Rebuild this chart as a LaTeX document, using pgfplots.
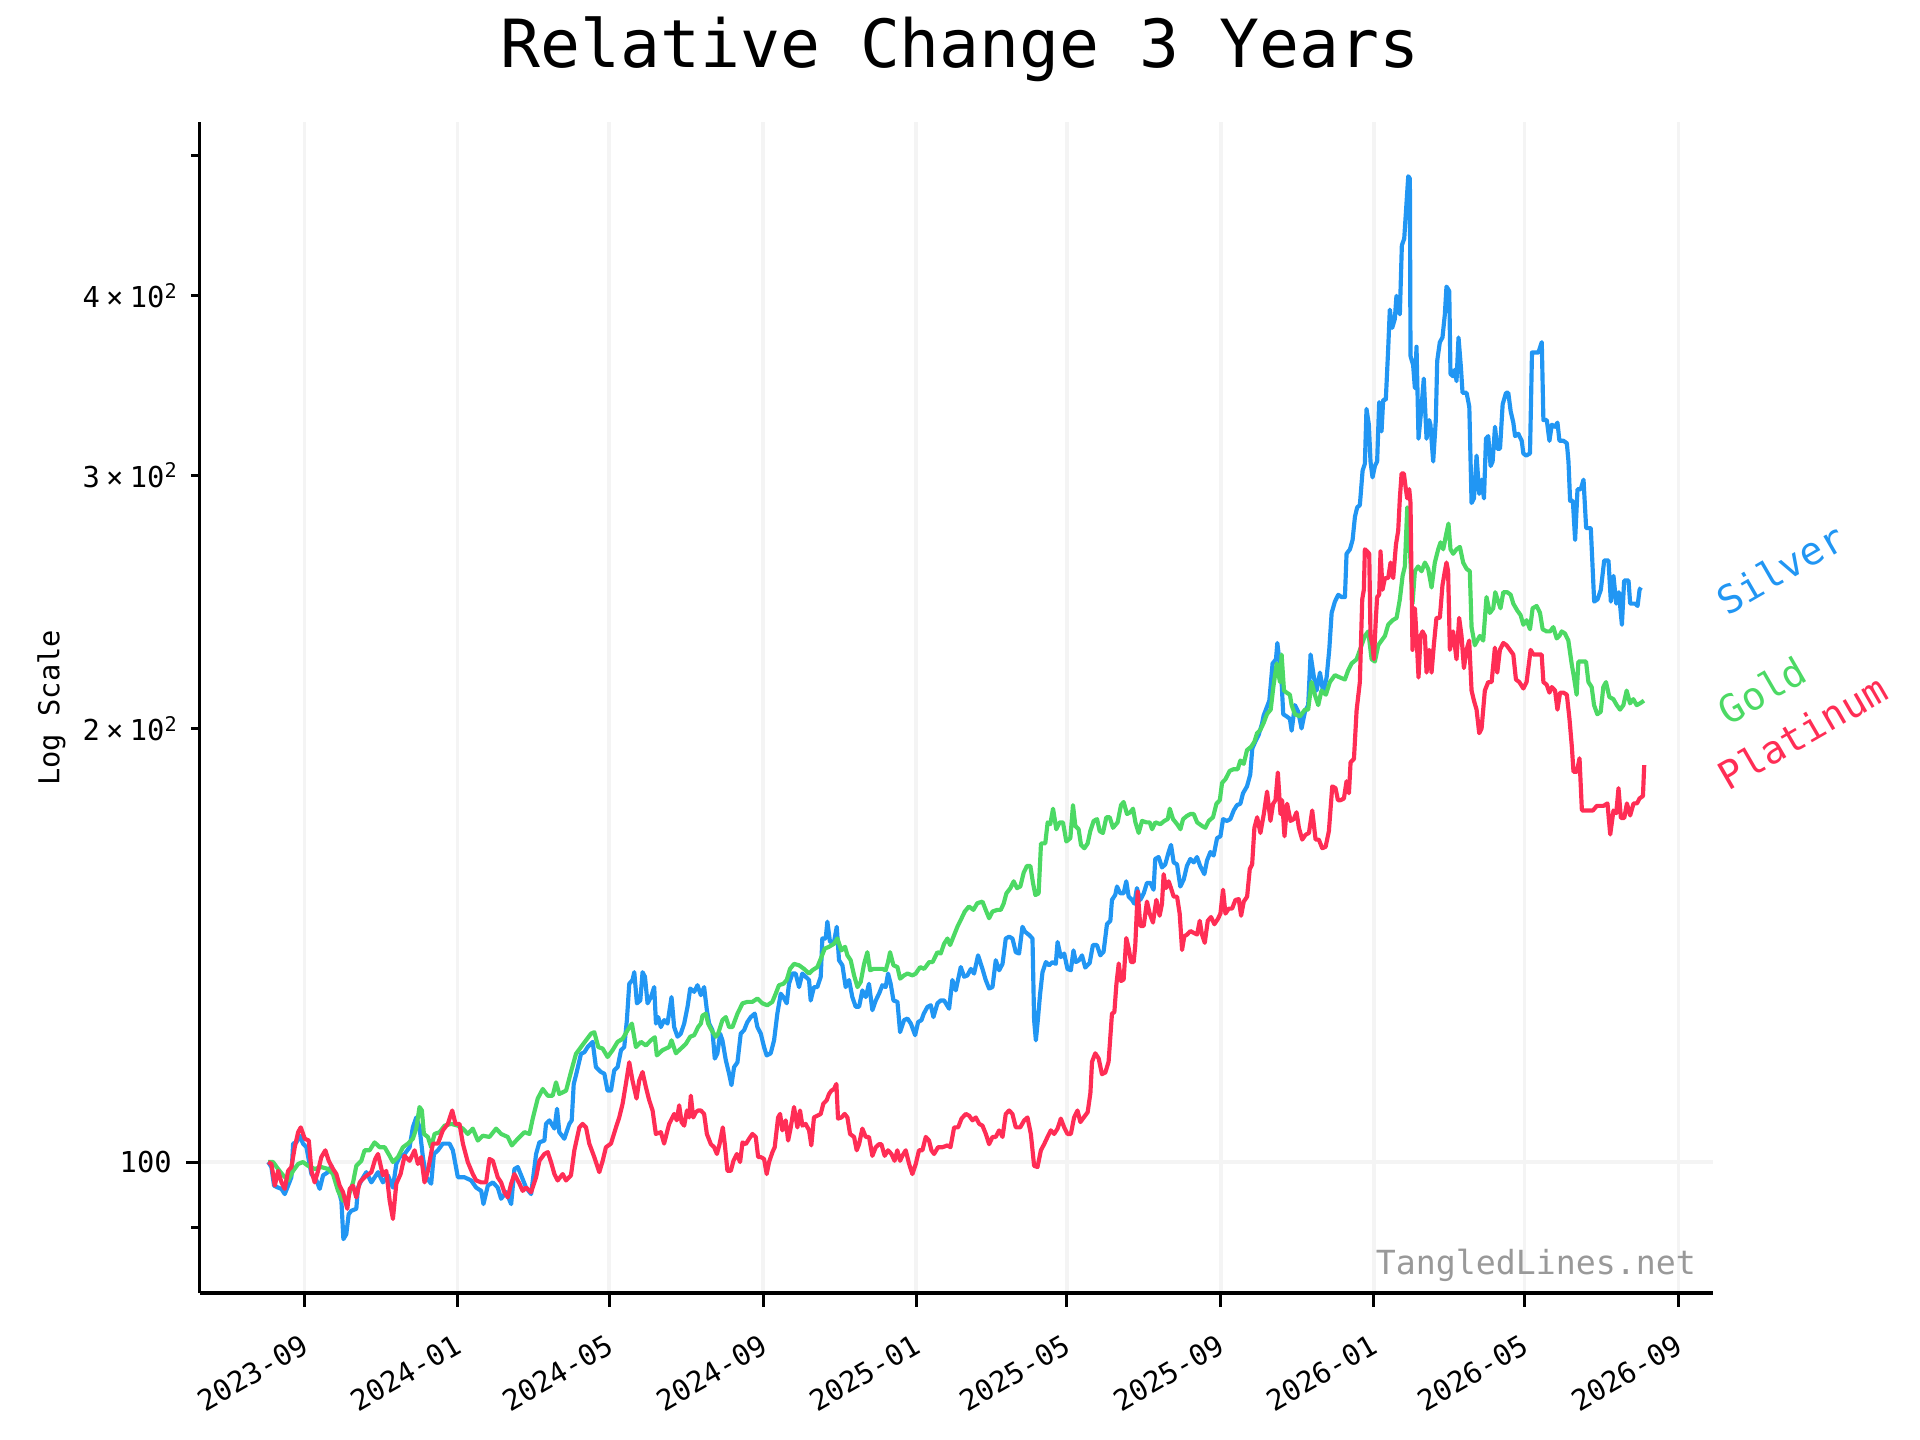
\documentclass[border=0pt]{standalone}
\usepackage{fontspec}
\setmainfont{DejaVu Sans Mono}
\usepackage{pgfplots}
\pgfplotsset{compat=1.18}
\definecolor{cSilver}{HTML}{2196F3}
\definecolor{cGold}{HTML}{4CD964}
\definecolor{cPlat}{HTML}{FF2D55}
\definecolor{cGrid}{HTML}{F4F4F4}
\definecolor{cWm}{HTML}{999999}
\newcommand{\sci}[1]{#1\hspace{0.22em}×\hspace{0.22em}10\raisebox{0.32em}{\fontsize{7.3}{8}\selectfont 2}}
\begin{document}
\begin{tikzpicture}
\useasboundingbox (-71.9bp,-52.9bp) rectangle (619.3bp,465.5bp);
\begin{axis}[
  at={(0,0)}, anchor=south west,
  scale only axis, width=544.7bp, height=421.4bp,
  xmin=-83.5, xmax=1123.3,
  ymode=log, ymin=81.1, ymax=527.5,
  axis lines=left, axis line style={-, line width=1.2bp, black},
  tick align=outside,
  major tick length=4.9bp, minor tick length=3.1bp,
  every tick/.style={black, line width=1.1bp},
  xtick={0,122,243,366,488,608,731,853,973,1096},
  xticklabels={2023-09,2024-01,2024-05,2024-09,2025-01,2025-05,2025-09,2026-01,2026-05,2026-09},
  ytick={100}, yticklabels={100},
  minor ytick={90,500},
  extra y ticks={200,300,400},
  extra y tick labels={\sci{2},\sci{3},\sci{4}},
  extra y tick style={major tick length=3.1bp, grid=none},
  xmajorgrids, ymajorgrids,
  major grid style={cGrid, line width=1.3bp},
  tick label style={font=\fontsize{10.4}{12}\selectfont},
  xticklabel style={rotate=30, anchor=north east, inner sep=0pt, xshift=-6bp, yshift=-7.2bp},
  yticklabel style={anchor=east, inner sep=0pt, xshift=-5bp},
  ylabel={Log Scale},
  every axis y label/.style={at={(axis description cs:-0.098,0.5)}, anchor=center, rotate=90, font=\fontsize{10.4}{12}\selectfont},
  clip=false,
]
\addplot[cSilver, line width=1.5bp, line join=round] table {
-28.9 100.0
-26.3 99.2
-24.2 96.3
-21.0 96.0
-18.3 95.8
-15.7 95.0
-13.0 96.3
-10.4 97.6
-9.0 103.0
-6.4 103.2
-3.7 104.3
-1.1 103.0
1.6 102.4
5.6 98.1
9.6 97.1
12.2 95.8
14.9 97.9
18.8 98.4
21.5 99.4
24.2 98.1
27.3 95.5
29.5 94.0
31.1 88.4
33.4 89.1
35.3 92.0
37.4 92.5
41.4 92.8
42.7 96.0
45.4 97.1
49.4 98.4
53.4 96.8
58.7 98.4
62.6 96.8
66.6 97.9
70.6 96.0
73.3 99.7
75.9 100.8
79.9 101.3
83.9 102.4
86.5 105.7
89.2 107.4
91.8 105.7
94.5 100.8
97.2 97.6
101.1 96.6
103.3 101.3
106.5 101.9
110.4 103.0
115.7 103.0
118.4 101.9
122.4 97.6
127.7 97.6
133.0 97.1
137.0 96.0
141.0 95.5
142.8 93.5
146.3 96.3
150.3 96.8
154.2 96.0
156.9 94.3
160.9 95.3
164.9 93.5
167.5 98.9
170.2 99.2
174.1 97.3
176.8 96.0
180.8 95.0
184.8 101.3
187.4 103.2
191.4 103.5
192.7 106.3
195.4 106.9
199.4 105.5
201.5 108.9
203.3 104.9
207.3 103.8
211.3 106.3
213.2 106.9
214.8 113.3
216.6 114.9
220.6 118.9
223.3 119.2
225.9 120.2
229.9 121.2
232.5 116.4
236.5 115.5
239.2 115.2
241.8 112.1
244.5 112.1
247.1 115.8
249.8 116.4
252.5 119.6
255.1 120.2
257.2 125.5
259.1 133.0
261.7 133.8
263.1 135.5
265.2 128.9
267.9 129.5
269.7 135.5
271.6 134.5
273.7 128.9
276.4 130.2
279.0 132.3
280.4 124.8
282.2 126.1
284.3 124.1
287.0 125.5
289.6 124.8
292.8 130.2
294.9 124.1
297.6 122.2
300.2 122.8
302.9 124.8
305.6 128.2
307.7 132.0
310.9 131.3
313.5 132.7
316.2 130.6
318.8 132.3
321.0 127.5
322.8 124.8
325.4 123.5
327.3 118.0
329.4 119.0
331.6 122.8
333.4 121.5
336.1 117.7
338.7 115.2
340.6 113.1
342.7 116.4
345.4 117.3
348.0 122.8
350.7 123.5
353.3 125.1
356.0 126.1
359.2 126.8
361.3 124.1
364.0 122.8
366.6 120.2
368.7 118.6
371.9 119.0
374.6 121.5
377.2 126.8
379.9 130.9
382.0 130.2
384.7 128.9
386.5 133.0
389.2 135.2
391.8 135.2
394.5 132.3
397.1 135.2
399.8 134.5
402.5 133.8
403.8 129.5
406.4 132.3
409.1 132.3
411.8 134.5
413.1 143.0
415.8 143.0
417.1 146.9
419.2 142.2
422.4 142.2
424.6 145.7
426.4 138.1
429.1 137.0
431.7 132.3
434.4 133.8
437.0 130.2
439.7 128.2
442.4 128.2
445.0 131.6
447.7 130.2
450.3 133.0
453.0 127.5
455.7 129.5
458.3 130.9
461.0 132.7
463.6 132.3
465.5 135.2
467.6 133.0
469.8 129.5
473.0 129.2
475.1 123.1
478.3 125.5
481.0 125.8
483.7 124.8
487.1 122.5
489.5 125.1
492.2 125.5
494.0 126.8
497.0 128.2
499.6 128.5
501.7 126.1
504.9 128.9
507.5 129.5
510.2 129.5
514.2 127.8
516.8 133.8
519.5 131.6
523.5 136.6
526.2 134.5
528.8 134.8
531.5 136.2
534.1 135.2
537.3 139.2
540.8 136.2
543.4 133.8
546.1 132.0
548.8 132.3
551.4 138.1
554.1 135.9
556.8 137.3
559.4 143.0
562.1 143.4
564.7 143.0
567.4 139.9
570.0 139.6
572.7 145.7
574.6 144.6
578.0 143.8
580.7 143.0
582.0 125.5
583.4 121.5
584.7 124.8
586.8 130.9
588.7 135.5
591.4 137.7
594.0 137.0
596.7 137.7
599.3 137.3
600.7 142.2
603.3 138.8
606.0 139.6
608.6 136.2
611.3 135.9
613.4 140.3
615.3 137.7
617.9 138.1
620.2 139.2
622.8 136.5
626.3 137.5
628.9 141.5
632.1 141.5
634.8 139.2
637.4 140.0
640.1 146.3
642.8 147.1
644.1 152.1
646.7 153.3
648.1 155.4
650.7 153.7
653.4 153.7
655.5 156.7
657.4 152.9
660.1 152.1
661.9 151.2
664.0 155.0
666.7 152.1
669.4 153.7
672.0 156.3
674.7 156.3
677.3 154.6
678.6 162.4
681.3 162.9
684.0 160.2
686.6 161.0
689.3 164.2
691.2 166.1
693.3 161.5
696.0 161.0
698.6 155.4
701.3 157.1
703.9 160.6
706.6 162.4
709.3 161.5
711.9 162.9
714.4 160.6
717.8 158.5
719.9 162.0
722.6 164.2
725.2 163.3
727.9 167.9
730.6 168.4
732.7 173.1
735.8 172.6
738.5 173.1
741.2 175.5
743.8 177.0
746.5 177.4
748.6 180.4
751.8 182.4
754.4 185.9
756.0 193.8
758.4 195.9
761.1 198.1
763.7 201.5
765.1 204.3
767.7 207.1
769.6 209.2
772.2 222.0
774.9 223.5
776.0 229.4
777.5 223.5
779.4 215.5
780.7 204.7
783.4 204.0
786.0 203.2
787.4 199.4
790.0 207.7
792.7 205.5
795.3 200.1
798.0 205.5
800.6 207.7
802.5 225.2
805.2 217.1
807.3 212.6
810.0 218.8
812.6 211.9
815.3 217.1
817.4 226.9
819.3 240.7
821.9 245.1
824.6 247.8
827.2 246.9
829.9 246.9
831.2 264.6
833.9 266.5
836.0 270.5
837.9 280.8
839.7 285.0
841.8 286.0
844.0 302.3
845.8 305.6
847.1 333.6
849.0 325.3
850.3 306.7
851.9 299.0
853.8 304.5
855.6 306.7
857.2 337.3
859.1 321.8
860.4 338.5
862.5 338.5
864.4 367.2
865.7 391.1
867.6 379.8
869.7 385.3
871.0 399.8
873.7 388.1
875.3 433.4
877.2 438.1
878.5 456.3
880.4 484.0
881.7 482.2
882.2 363.1
884.3 357.8
885.7 344.9
887.0 368.5
888.6 318.1
891.0 334.8
892.8 350.2
895.0 318.1
897.1 327.7
898.1 325.3
900.3 306.7
902.4 327.7
903.5 360.3
905.6 371.2
907.7 374.0
909.6 388.1
910.9 405.7
913.1 402.8
914.1 352.8
916.2 351.5
917.8 355.3
918.9 348.8
920.5 374.0
922.4 356.6
923.7 342.3
926.9 342.3
929.1 334.8
930.9 287.0
932.8 289.1
934.9 309.6
937.0 291.2
938.9 297.9
940.8 289.1
942.4 318.1
944.2 319.4
946.1 304.5
947.7 306.7
949.6 324.2
951.4 313.0
953.6 313.0
955.7 336.1
958.4 342.3
960.2 342.3
962.1 332.3
964.2 326.4
965.6 319.4
968.2 320.6
970.9 317.0
972.2 310.7
974.4 309.6
977.5 310.7
979.1 365.1
981.5 365.1
984.2 365.1
986.9 371.2
988.2 327.7
990.9 327.7
993.0 317.0
994.9 325.3
997.5 324.2
999.4 326.4
1001.0 317.0
1004.2 317.0
1006.9 315.8
1008.2 306.7
1009.5 288.0
1011.7 288.0
1013.5 270.5
1015.4 293.4
1018.0 293.4
1020.2 297.9
1022.3 275.7
1026.0 275.7
1028.7 245.1
1031.4 246.0
1034.0 249.8
1036.7 261.8
1040.1 261.8
1042.0 245.1
1044.1 255.4
1046.3 244.3
1048.4 248.8
1050.8 236.2
1052.6 253.5
1056.1 253.5
1057.4 244.3
1061.4 244.3
1063.3 243.4
1064.9 249.8
1066.0 250.7
};
\addplot[cGold, line width=1.5bp, line join=round] table {
-28.9 100.0
-25.0 100.0
-21.0 98.9
-17.0 97.9
-13.0 97.1
-9.0 98.6
-5.0 99.7
-1.1 100.0
2.9 99.4
8.2 98.9
13.5 99.2
18.8 98.9
22.8 98.1
26.8 95.5
30.8 94.0
34.8 94.5
38.8 96.8
41.4 99.4
45.4 100.2
48.0 101.9
52.0 101.9
56.0 103.2
60.0 102.4
64.0 102.4
68.0 101.0
70.6 100.0
74.6 100.8
78.6 102.4
82.6 103.0
86.5 103.8
89.2 105.5
91.8 109.2
93.7 108.6
95.3 104.6
98.5 104.1
101.1 102.4
103.8 104.6
107.8 104.9
111.8 106.0
117.1 106.3
122.4 106.0
126.4 105.5
130.3 104.6
134.3 105.5
138.3 103.5
142.3 104.3
147.6 104.1
152.9 105.5
156.9 104.6
162.2 104.1
165.4 102.7
170.2 103.8
175.5 104.9
179.5 104.6
182.1 107.2
186.1 110.7
190.1 112.4
194.1 111.2
198.0 111.2
200.7 113.6
203.3 111.5
208.7 112.1
212.6 115.5
216.6 118.9
220.6 120.2
224.6 121.5
228.6 122.8
231.2 123.1
234.4 120.2
237.9 119.9
241.8 118.3
245.8 119.6
249.8 121.2
253.8 121.8
257.8 123.5
261.2 124.8
264.4 120.2
268.4 121.2
272.4 120.5
276.3 121.5
279.5 122.1
281.1 118.6
285.6 119.6
290.9 120.2
292.8 121.5
296.3 119.0
298.9 119.6
301.6 120.2
304.2 120.8
307.7 122.2
310.9 122.5
314.0 124.1
316.2 124.8
317.5 126.4
320.2 126.8
322.0 124.8
324.7 123.5
328.1 122.2
330.0 122.8
333.4 125.5
336.1 126.1
338.7 124.1
341.4 124.1
345.4 126.8
349.4 128.9
353.3 129.2
357.3 129.2
361.3 129.9
365.3 128.9
369.2 128.5
373.2 129.2
375.9 130.9
378.5 132.7
382.0 133.0
384.7 133.8
387.3 136.2
390.5 137.3
394.5 137.0
398.5 136.2
402.5 135.2
405.1 135.9
409.1 136.6
411.8 138.4
415.0 140.7
418.4 141.1
422.4 141.8
425.1 143.0
428.3 140.3
431.2 141.1
433.1 139.2
435.7 138.1
438.4 134.8
441.1 132.3
443.7 133.4
446.4 137.3
449.0 139.9
451.2 135.9
453.8 136.2
457.6 136.2
461.0 136.2
463.6 135.9
465.5 137.7
467.1 139.9
469.8 137.0
473.0 136.6
475.1 134.1
478.3 134.8
481.0 135.2
485.0 134.8
487.6 135.2
491.1 136.6
494.3 136.2
498.3 137.7
501.0 137.7
504.9 139.9
507.5 139.6
510.2 141.8
512.9 143.0
515.0 141.5
518.2 143.8
520.8 145.7
523.5 147.3
526.7 149.3
530.0 150.5
533.6 149.7
536.7 151.3
540.8 151.7
543.4 149.7
546.1 147.7
548.8 149.3
552.7 149.7
555.4 149.7
557.7 151.2
559.9 153.7
563.1 155.0
565.7 156.7
568.4 155.0
571.0 155.4
573.7 158.9
576.3 160.6
579.0 160.6
581.1 156.3
583.0 153.3
585.6 153.7
587.5 166.5
590.9 166.5
592.8 172.2
594.9 171.7
597.1 176.0
599.7 170.3
602.4 172.2
605.0 172.2
607.7 167.0
610.9 167.9
613.0 177.0
614.9 171.2
617.5 170.3
619.4 166.1
622.1 165.2
624.7 166.5
626.8 169.8
629.5 172.6
632.2 173.1
634.3 169.8
636.9 169.3
639.6 173.6
642.3 173.6
644.9 170.7
648.6 172.2
651.3 177.0
653.4 177.9
656.1 174.5
658.7 175.0
660.9 176.0
662.8 172.2
665.4 169.3
668.1 172.6
671.5 172.2
674.2 172.2
676.1 170.3
678.7 172.2
682.7 171.7
685.9 172.6
688.6 173.1
690.2 176.0
692.8 173.1
696.0 171.7
698.7 170.3
700.8 173.1
704.0 174.0
706.6 174.5
709.3 174.5
712.0 172.2
716.0 171.2
718.6 170.7
721.3 172.6
724.7 173.6
727.4 177.4
730.1 178.4
731.9 183.4
734.6 184.5
738.0 187.0
741.2 187.5
744.4 187.5
746.5 190.1
749.2 189.1
751.8 193.3
755.0 194.3
757.7 195.9
759.8 198.6
762.5 199.7
765.1 201.9
767.8 204.8
770.7 206.2
772.8 213.8
775.5 222.0
778.1 215.5
779.4 225.2
781.3 212.6
783.4 211.9
786.0 211.2
787.4 207.7
790.0 204.7
794.0 204.0
798.0 206.2
800.6 206.2
803.3 215.5
805.9 211.2
808.6 207.7
811.2 212.6
814.7 211.2
817.9 215.5
821.9 217.9
825.9 217.1
829.9 216.4
832.5 219.6
835.2 222.0
839.2 223.5
843.2 228.6
845.8 232.0
848.5 233.7
851.2 223.5
853.8 222.7
856.5 228.6
859.1 230.3
861.8 232.0
864.4 236.2
867.9 237.9
871.1 238.8
873.7 246.0
875.9 255.4
877.7 259.3
879.6 285.0
881.2 272.5
883.8 244.3
885.7 257.3
888.3 259.3
891.0 257.3
893.7 260.9
896.3 258.3
899.0 250.7
901.6 260.9
904.3 266.5
906.2 269.5
908.3 266.5
910.9 273.6
912.5 277.7
914.1 266.5
916.2 264.6
918.9 266.5
921.6 267.5
924.2 260.9
926.9 258.3
929.5 257.3
930.9 235.3
933.5 228.6
937.5 232.0
940.2 230.3
942.8 246.9
945.5 240.7
948.2 242.5
949.8 248.8
952.2 245.1
954.0 242.5
956.2 248.8
959.4 248.8
962.1 247.8
964.2 244.3
967.4 241.6
970.0 239.9
972.2 236.2
974.8 237.9
977.5 234.5
979.6 242.5
982.8 243.4
985.5 240.7
987.6 234.5
990.8 233.7
993.5 233.7
996.1 235.3
998.8 231.1
1000.9 232.0
1002.8 233.7
1005.4 232.9
1008.1 230.3
1010.7 222.0
1012.6 217.1
1014.7 211.2
1016.1 222.7
1020.1 222.7
1022.2 222.7
1024.1 215.5
1026.7 213.8
1028.6 207.7
1031.2 204.7
1033.9 205.5
1036.0 213.8
1038.1 215.5
1040.8 210.4
1044.0 209.7
1046.7 207.7
1049.3 206.2
1052.0 207.7
1054.6 212.6
1057.3 208.3
1059.9 209.7
1062.6 207.7
1065.3 208.3
1068.4 209.2
};
\addplot[cPlat, line width=1.5bp, line join=round] table {
-28.9 100.0
-26.3 99.7
-23.6 96.3
-21.0 98.6
-18.3 96.8
-15.7 95.8
-13.0 98.6
-10.4 99.2
-7.7 102.4
-5.0 104.9
-2.9 105.7
0.3 103.8
3.5 103.5
5.6 98.6
8.2 96.8
10.9 98.6
13.5 100.8
16.7 101.9
19.4 100.2
22.8 98.9
25.5 98.1
28.1 96.3
30.8 95.3
34.2 92.8
36.1 95.8
38.8 96.3
41.4 94.5
44.1 96.8
48.0 97.6
53.4 98.4
56.5 100.5
58.7 101.3
62.6 97.9
65.3 98.6
68.0 94.0
70.6 91.3
73.3 96.6
76.7 98.1
79.9 101.0
83.9 100.2
87.9 101.9
90.5 99.7
93.2 100.8
95.8 96.8
98.5 98.6
102.5 103.0
106.5 103.0
110.4 105.2
114.4 106.3
117.9 108.6
120.5 106.3
123.7 106.3
126.4 103.0
130.3 100.0
134.3 98.1
137.0 97.1
141.0 96.8
144.9 96.8
147.6 100.5
150.3 100.2
154.2 97.6
156.9 96.8
159.5 95.3
162.2 94.5
164.9 96.6
167.5 98.1
171.5 96.6
174.1 95.5
176.8 96.0
180.8 95.3
184.8 97.6
187.4 100.2
191.4 101.3
194.1 101.6
196.7 100.0
199.4 98.1
202.0 97.1
206.0 98.1
208.7 97.1
212.6 97.9
215.3 101.9
219.3 105.7
221.9 106.3
224.6 105.7
227.2 103.0
231.2 100.8
235.2 98.4
237.9 100.2
240.5 102.4
244.5 103.0
248.5 105.7
251.1 107.4
253.8 109.8
256.4 113.3
259.1 117.3
261.7 113.9
264.9 110.7
267.0 113.9
269.7 115.5
272.4 112.7
275.0 110.4
277.7 108.6
280.3 104.6
284.3 104.9
286.9 103.0
290.9 106.3
294.9 108.0
297.0 106.9
298.9 109.5
300.8 106.6
302.9 106.0
305.1 108.6
306.9 107.4
308.2 111.2
310.1 107.4
312.2 108.3
314.0 108.6
316.2 108.6
318.8 108.0
321.0 104.6
324.2 102.9
326.8 102.4
329.0 101.3
331.1 102.9
333.7 105.7
335.3 102.9
337.4 98.6
340.1 98.6
342.2 100.2
344.9 101.3
347.5 100.0
349.4 103.2
352.0 102.9
354.7 103.8
357.3 104.6
360.0 104.1
361.9 100.8
364.0 100.8
366.6 100.5
368.7 98.1
370.6 100.0
373.3 101.6
375.1 102.4
377.8 107.4
379.4 108.0
381.2 105.2
383.9 106.9
385.8 103.5
387.9 105.7
390.5 109.2
393.2 105.7
395.3 108.6
397.2 106.0
399.8 106.3
402.5 105.2
404.3 102.7
406.4 107.4
409.1 107.7
411.8 108.0
413.9 109.8
416.6 110.4
418.4 111.5
420.3 112.1
422.4 112.4
424.3 113.3
425.6 107.2
428.3 107.4
430.9 108.0
433.1 107.4
435.2 104.6
438.4 104.1
440.5 101.9
442.4 102.9
445.0 105.5
447.7 104.1
450.3 104.1
453.0 101.0
455.7 102.4
458.3 102.9
460.2 102.9
462.8 101.0
465.5 101.9
468.2 101.3
470.7 100.2
472.9 101.9
475.1 100.2
476.9 101.0
479.6 101.9
482.3 99.7
484.9 98.1
487.6 99.7
490.2 101.9
492.9 101.9
495.6 104.1
498.2 103.5
500.1 101.9
502.2 101.3
505.4 102.4
508.9 102.4
512.9 102.7
515.3 102.4
518.2 105.7
521.4 105.7
524.1 107.2
527.5 108.0
530.2 107.7
532.8 106.9
535.5 107.4
538.2 106.3
540.8 106.0
543.5 104.6
546.1 102.9
548.8 104.1
551.4 104.1
554.1 105.2
556.8 104.1
559.4 108.0
562.1 108.6
564.7 108.0
567.4 105.7
570.9 105.7
574.1 106.9
576.7 107.4
579.4 104.6
582.0 99.4
584.7 99.2
587.4 101.9
590.0 102.9
592.7 104.1
595.3 105.2
598.0 104.6
600.7 105.5
603.3 107.2
606.0 105.7
608.6 104.6
611.3 104.6
613.9 107.4
616.6 108.6
618.9 106.6
621.6 107.4
624.7 108.3
626.9 111.7
628.2 117.4
630.8 119.0
633.5 118.0
636.1 115.1
638.8 115.4
641.4 117.4
644.1 126.8
646.0 127.1
647.6 132.8
649.5 137.4
651.3 133.6
653.4 133.9
655.5 143.1
657.4 140.8
659.3 137.7
661.4 137.7
662.7 141.5
664.6 154.2
666.7 145.9
669.4 145.9
672.0 151.7
674.2 148.8
676.8 146.7
679.5 152.1
682.1 148.3
684.0 151.2
685.3 158.5
687.2 155.0
689.3 156.7
691.2 155.0
693.3 152.9
696.0 152.9
698.1 148.8
700.0 140.4
701.8 143.5
704.0 143.9
706.6 144.7
709.3 144.3
712.0 143.9
714.1 147.1
715.9 143.9
718.1 142.0
720.5 147.1
723.1 148.0
725.8 146.3
728.5 147.5
730.6 148.8
732.7 154.6
734.6 148.8
737.3 150.0
739.9 150.0
742.6 152.1
745.2 152.3
747.1 148.3
749.2 151.7
751.9 152.9
754.0 159.8
755.9 161.0
757.7 170.7
759.9 173.6
762.5 169.3
765.2 174.5
767.8 180.9
770.5 172.6
772.6 177.4
774.5 178.4
776.4 186.5
778.5 174.5
779.8 178.4
781.7 168.4
783.8 177.4
786.5 172.6
789.1 173.1
791.3 175.0
793.2 170.7
795.8 167.5
798.5 168.8
801.2 169.3
803.8 175.5
806.5 167.5
809.1 167.5
811.8 165.2
814.5 165.6
817.1 169.8
819.8 182.4
822.4 181.9
824.3 178.4
826.4 178.4
829.1 178.9
831.2 183.9
833.1 180.4
834.4 189.6
837.1 190.6
839.2 205.9
841.8 215.5
843.7 246.0
845.0 249.8
845.8 266.5
847.7 265.6
849.3 264.6
850.3 232.0
851.9 228.6
853.0 223.5
854.6 238.8
855.6 246.9
857.2 247.8
858.3 265.6
859.9 249.8
861.8 254.5
864.4 254.5
866.3 260.9
868.4 254.5
870.6 268.5
872.4 274.6
873.7 289.1
875.1 300.9
876.9 300.9
878.5 293.4
879.6 289.1
881.2 293.4
882.2 287.0
883.8 226.9
885.7 242.5
887.0 232.0
888.6 217.1
890.2 232.0
891.8 233.7
893.7 232.0
895.0 218.8
897.1 226.9
899.0 218.8
900.8 228.6
902.9 238.8
905.6 238.8
907.7 251.6
909.6 257.3
910.9 260.9
912.2 257.3
913.6 226.9
916.2 233.7
918.9 223.5
921.0 238.8
922.9 232.0
924.8 220.4
926.9 226.9
929.0 230.3
930.9 212.6
932.8 209.2
934.9 206.2
937.0 198.6
938.9 200.1
941.5 212.6
944.2 215.5
946.9 215.5
949.5 227.7
951.4 218.8
953.5 226.9
956.2 229.4
958.8 228.6
961.5 226.9
964.2 225.2
966.3 216.4
969.0 215.5
972.2 213.3
974.8 215.5
978.0 226.9
980.2 225.2
982.8 225.2
986.8 225.2
988.2 215.5
990.8 214.6
993.0 211.9
994.9 213.8
997.5 212.6
999.4 206.2
1001.5 211.9
1004.2 211.9
1006.9 211.2
1009.0 203.2
1010.9 194.3
1012.2 186.7
1014.9 186.7
1017.0 190.8
1018.9 175.5
1022.9 175.5
1027.7 175.5
1030.8 176.8
1036.1 176.8
1039.3 177.5
1041.5 168.9
1044.1 175.5
1046.3 174.7
1048.1 181.9
1050.0 173.4
1052.7 173.4
1054.8 177.5
1057.4 174.1
1060.1 177.5
1062.8 177.5
1064.9 178.9
1067.6 179.6
1068.6 188.7
};
\node[anchor=base east, text=cWm, inner sep=0pt, font=\fontsize{12}{14}\selectfont] at (axis cs:1110.2,83.5) {TangledLines.net};
\node[rotate=30, anchor=base west, text=cSilver, inner sep=0pt, font=\fontsize{14}{16}\selectfont] at (axis cs:1134.4,239.3) {Silver};
\node[rotate=30, anchor=base west, text=cGold, inner sep=0pt, font=\fontsize{14}{16}\selectfont] at (axis cs:1135.7,200.7) {Gold};
\node[rotate=30, anchor=base west, text=cPlat, inner sep=0pt, font=\fontsize{14}{16}\selectfont] at (axis cs:1135.7,180.9) {Platinum};
\end{axis}
\node[anchor=base, font=\fontsize{24}{28}\selectfont] at (273.7bp,441.2bp) {Relative Change 3 Years};
\end{tikzpicture}
\end{document}
